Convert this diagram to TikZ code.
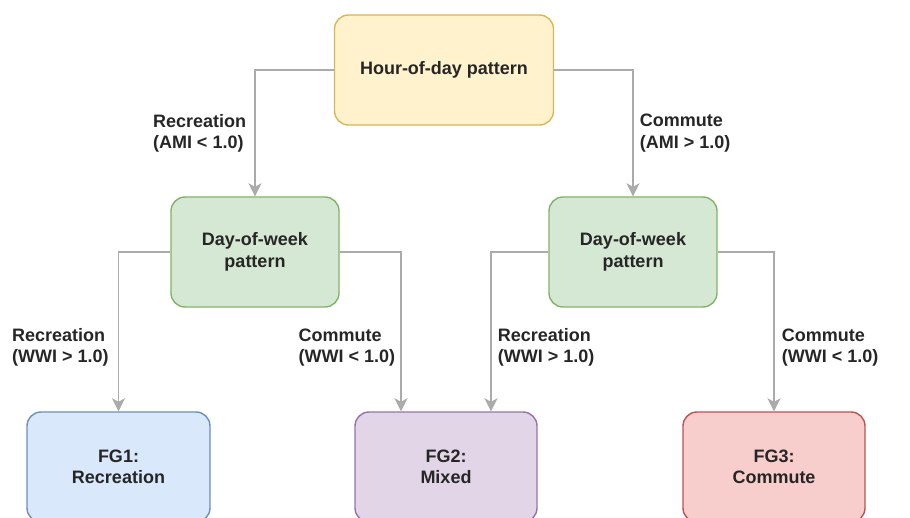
\documentclass[tikz,border=0pt]{standalone}
\usepackage{fontspec}
\setmainfont{Liberation Sans}
\usetikzlibrary{arrows.meta,positioning}

\definecolor{yelfill}{HTML}{FFF2CC}
\definecolor{yelline}{HTML}{D6B656}
\definecolor{grnfill}{HTML}{D5E8D4}
\definecolor{grnline}{HTML}{82B366}
\definecolor{blufill}{HTML}{DAE8FC}
\definecolor{bluline}{HTML}{6C8EBF}
\definecolor{purfill}{HTML}{E1D5E7}
\definecolor{purline}{HTML}{9673A6}
\definecolor{redfill}{HTML}{F8CECC}
\definecolor{redline}{HTML}{B85450}
\definecolor{linkgray}{HTML}{ABABAB}

\begin{document}
\begin{tikzpicture}[x=1pt, y=1pt]
    \tikzset{block/.style= {draw, rectangle
    , rounded corners=14pt
    , line width=1.4pt
    , minimum height=110pt
    , align=center
    , text=black!85
    , font=\fontsize{18}{21.5}\selectfont\bfseries
    , on grid
      },
      link/.style={draw, line width=1.9pt, color=linkgray
    , -{Stealth[length=13pt, width=13pt, inset=3.5pt]}
      },
      cond/.style={inner sep=0pt, align=left, text=black!85
    , font=\fontsize{18}{21.5}\selectfont\bfseries
      }
    }

\useasboundingbox (0,0) rectangle (910,-518);
\clip (0,0) rectangle (910,-518);

\node [block, fill=yelfill, draw=yelline, minimum width=219pt] at (444,-70) (hour) {Hour-of-day pattern};
\node [block, fill=grnfill, draw=grnline, minimum width=168pt, below left=182pt and 189pt of hour] (dayL) {Day-of-week\\pattern};
\node [block, fill=grnfill, draw=grnline, minimum width=168pt, below right=182pt and 189pt of hour] (dayR) {Day-of-week\\pattern};
\node [block, fill=blufill, draw=bluline, minimum width=183pt, below left=215pt and 136.5pt of dayL] (fg1) {FG1:\\Recreation};
\node [block, fill=purfill, draw=purline, minimum width=182pt, below right=215pt and 191pt of dayL] (fg2) {FG2:\\Mixed};
\node [block, fill=redfill, draw=redline, minimum width=182pt, below right=215pt and 141pt of dayR] (fg3) {FG3:\\Commute};

 \path[link] (hour.west) -| node[cond, pos=0.75, anchor=east, xshift=-8pt] {Recreation\\(AMI < 1.0)} (dayL.north);
 \path[link] (hour.east) -| node[cond, pos=0.75, anchor=west, xshift=6pt] {Commute\\(AMI > 1.0)} (dayR.north);
 \path[link] (dayL.west) -| node[cond, pos=0.8, anchor=east, xshift=-9pt] {Recreation\\(WWI > 1.0)} (fg1.north);
 \path[link] (dayL.east) -| node[cond, pos=0.8, anchor=east, xshift=-5pt] {Commute\\(WWI < 1.0)} ([xshift=-45pt]fg2.north);
 \path[link] (dayR.west) -| node[cond, pos=0.8, anchor=west, xshift=6pt] {Recreation\\(WWI > 1.0)} ([xshift=45pt]fg2.north);
 \path[link] (dayR.east) -| node[cond, pos=0.8, anchor=west, xshift=7pt] {Commute\\(WWI < 1.0)} (fg3.north);
\end{tikzpicture}
\end{document}
